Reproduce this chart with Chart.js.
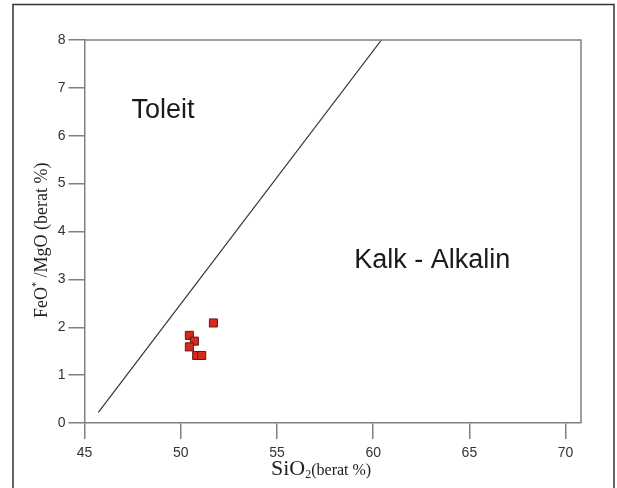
<!DOCTYPE html>
<html>
<head>
<meta charset="utf-8">
<script src="https://cdn.jsdelivr.net/npm/chart.js@4/dist/chart.umd.min.js"></script>
<style>
  html, body { margin: 0; padding: 0; background: #fff; }
  #wrap { width: 617px; height: 488px; }
</style>
</head>
<body>
<div id="wrap"><canvas id="feoChart" width="617" height="488"></canvas></div>
<script>
// sample points
const sio2 = [51.70, 50.45, 50.71, 50.45, 50.83, 51.09];
const feoMgo = [2.09, 1.83, 1.71, 1.59, 1.41, 1.41];

// dividing line Toleit / Kalk-Alkalin
const lineSio2 = [45.72, 60.43];
const lineFeo = [0.22, 8];

const xTicks = [45, 50, 55, 60, 65, 70];
const yTicks = [0, 1, 2, 3, 4, 5, 6, 7, 8];

const labels = [
    { text: 'Toleit', x: 47.44, y: 6.37 },
    { text: 'Kalk - Alkalin', x: 59.02, y: 3.24 }
];

// frame, titles and field names
const decor = {
    id: 'decor',
    afterDraw(chart) {
        const c = chart.ctx;
        const a = chart.chartArea;
        const xs = chart.scales.x, ys = chart.scales.y;
        c.save();

        // outer box
        c.strokeStyle = '#333';
        c.lineWidth = 1.5;
        c.beginPath();
        c.moveTo(13, 488);
        c.lineTo(13, 4.5);
        c.lineTo(614, 4.5);
        c.lineTo(614, 488);
        c.stroke();

        // plot frame top & right
        c.strokeStyle = '#808080';
        c.lineWidth = 1.5;
        c.beginPath();
        c.moveTo(a.left, a.top);
        c.lineTo(a.right, a.top);
        c.lineTo(a.right, a.bottom);
        c.stroke();

        // field names
        c.fillStyle = '#1a1a1a';
        c.font = '27px "Liberation Sans", Arial, sans-serif';
        c.textBaseline = 'alphabetic';
        c.textAlign = 'left';
        labels.forEach(l => {
            c.fillText(l.text, xs.getPixelForValue(l.x), ys.getPixelForValue(l.y));
        });

        // x title: SiO2(berat %)
        c.fillStyle = '#222';
        let x = 271, base = 475;
        c.font = '22px "Liberation Serif", "Times New Roman", serif';
        c.fillText('SiO', x, base);
        x += c.measureText('SiO').width;
        c.font = '12px "Liberation Serif", "Times New Roman", serif';
        c.fillText('2', x, base + 3);
        x += c.measureText('2').width;
        c.font = '16px "Liberation Serif", "Times New Roman", serif';
        c.fillText('(berat %)', x, base);

        // y title: FeO* /MgO (berat %)
        c.translate(47, 318);
        c.rotate(-Math.PI / 2);
        let y = 0;
        c.font = '18px "Liberation Serif", "Times New Roman", serif';
        c.fillText('FeO', y, 0);
        y += c.measureText('FeO').width;
        c.font = '10px "Liberation Serif", "Times New Roman", serif';
        c.fillText('*', y, -8);
        y += c.measureText('*').width;
        c.font = '18px "Liberation Serif", "Times New Roman", serif';
        c.fillText(' /MgO (berat %)', y, 0);

        c.restore();
    }
};

new Chart(document.getElementById('feoChart'), {
    type: 'scatter',
    data: {
        datasets: [{
            label: 'Sampel',
            data: sio2.map((v, i) => ({ x: v, y: feoMgo[i] })),
            pointStyle: 'rect',
            pointRadius: 5.7,
            pointHoverRadius: 5.7,
            backgroundColor: '#d42a1f',
            borderColor: '#6e1410',
            borderWidth: 1
        }, {
            label: 'Batas',
            type: 'line',
            data: lineSio2.map((v, i) => ({ x: v, y: lineFeo[i] })),
            borderColor: '#333',
            borderWidth: 1.2,
            pointRadius: 0,
            fill: false
        }]
    },
    options: {
        responsive: false,
        animation: false,
        layout: { padding: { left: 0, top: 40, right: 36, bottom: 0 } },
        plugins: {
            legend: { display: false },
            tooltip: { enabled: false }
        },
        scales: {
            x: {
                type: 'linear',
                min: 45,
                max: 70.8,
                afterBuildTicks: s => { s.ticks = xTicks.map(v => ({ value: v })); },
                afterFit: s => { s.height = 65; },
                grid: { drawOnChartArea: false, tickLength: 16, color: '#808080', lineWidth: 1.5 },
                border: { color: '#808080', width: 1.5 },
                ticks: {
                    color: '#333',
                    padding: 6,
                    maxRotation: 0,
                    font: { family: '"Liberation Sans", Arial, sans-serif', size: 14 }
                }
            },
            y: {
                type: 'linear',
                min: 0,
                max: 8,
                afterBuildTicks: s => { s.ticks = yTicks.map(v => ({ value: v })); },
                afterFit: s => { s.width = 84.5; },
                grid: { drawOnChartArea: false, tickLength: 16, color: '#808080', lineWidth: 1.5 },
                border: { color: '#808080', width: 1.5 },
                ticks: {
                    color: '#333',
                    padding: 3,
                    font: { family: '"Liberation Sans", Arial, sans-serif', size: 14 }
                }
            }
        }
    },
    plugins: [decor]
});
</script>
</body>
</html>
